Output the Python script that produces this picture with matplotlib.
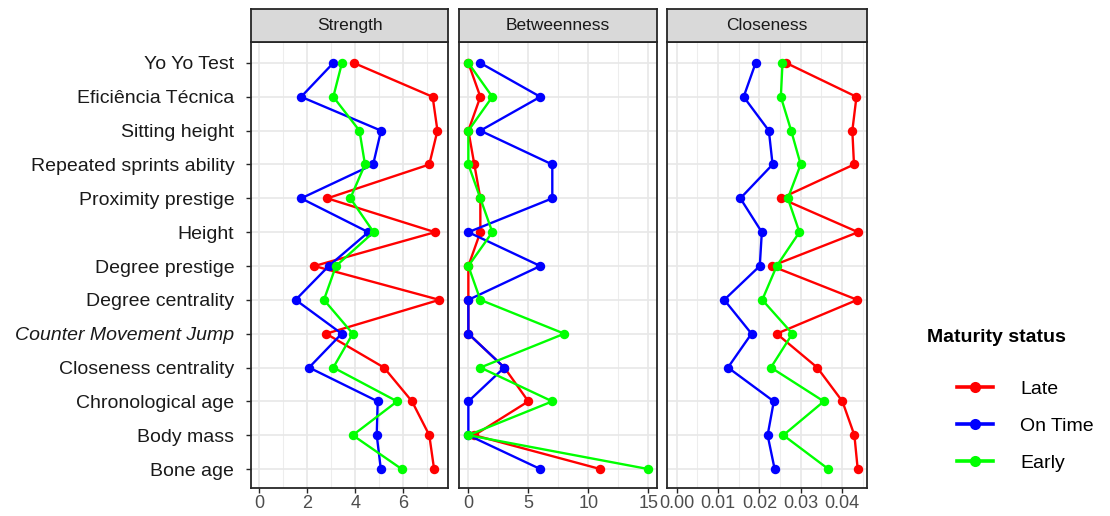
import matplotlib
matplotlib.use("Agg")
import matplotlib.pyplot as plt
from matplotlib.lines import Line2D
from matplotlib.ticker import FixedLocator

plt.rcParams['font.family'] = ['Liberation Sans', 'DejaVu Sans']

variables = ["Yo Yo Test", "Eficiência Técnica", "Sitting height", "Repeated sprints ability",
             "Proximity prestige", "Height", "Degree prestige", "Degree centrality",
             "Counter Movement Jump", "Closeness centrality", "Chronological age",
             "Body mass", "Bone age"]
groups = ["Late", "On Time", "Early"]
group_colors = ["#FF0000", "#0000FF", "#00FF00"]

strength_late = [3.94, 7.22, 7.42, 7.08, 2.83, 7.32, 2.29, 7.50, 2.78, 5.19, 6.36, 7.08, 7.28]
strength_ontime = [3.08, 1.74, 5.07, 4.74, 1.74, 4.54, 2.89, 1.51, 3.43, 2.07, 4.93, 4.89, 5.06]
strength_early = [3.44, 3.08, 4.17, 4.40, 3.79, 4.76, 3.19, 2.69, 3.89, 3.08, 5.74, 3.89, 5.93]

betweenness_late = [0, 1, 0, 0.5, 1, 1, 0, 0, 0, 3, 5, 0.5, 11]
betweenness_ontime = [1, 6, 1, 7, 7, 0, 6, 0, 0, 3, 0, 0, 6]
betweenness_early = [0, 2, 0, 0, 1, 2, 0, 1, 8, 1, 7, 0, 15]

closeness_late = [0.0265, 0.0435, 0.0425, 0.0429, 0.0252, 0.0439, 0.0230, 0.0437, 0.0242,
                  0.0340, 0.0401, 0.0430, 0.0438]
closeness_ontime = [0.0191, 0.0162, 0.0223, 0.0232, 0.0154, 0.0206, 0.0201, 0.0115, 0.0181,
                    0.0124, 0.0235, 0.0220, 0.0237]
closeness_early = [0.0256, 0.0252, 0.0277, 0.0300, 0.0269, 0.0297, 0.0242, 0.0207, 0.0280,
                   0.0228, 0.0356, 0.0258, 0.0367]

panel_titles = ["Strength", "Betweenness", "Closeness"]
panel_data = [
    [strength_late, strength_ontime, strength_early],
    [betweenness_late, betweenness_ontime, betweenness_early],
    [closeness_late, closeness_ontime, closeness_early],
]
major_ticks = [[0, 2, 4, 6], [0, 5, 10, 15], [0.00, 0.01, 0.02, 0.03, 0.04]]
minor_ticks = [[1, 3, 5, 7], [2.5, 7.5, 12.5], [0.005, 0.015, 0.025, 0.035, 0.045]]
tick_labels = [["0", "2", "4", "6"], ["0", "5", "10", "15"],
               ["0.00", "0.01", "0.02", "0.03", "0.04"]]
xlims = [(-0.35, 7.86), (-0.78, 15.73), (-0.00235, 0.04605)]

W, H = 1110, 516
fig = plt.figure(figsize=(W / 100, H / 100), dpi=100)

panel_px = [(251, 448), (459, 657), (667, 867)]
top_px, bot_px, strip_top_px = 42, 488, 9

ypos = list(range(len(variables)))
border = "#262626"

for i, (x0, x1) in enumerate(panel_px):
    ax = fig.add_axes([x0 / W, 1 - bot_px / H, (x1 - x0) / W, (bot_px - top_px) / H])
    ax.set_facecolor("white")
    ax.set_xlim(*xlims[i])
    ax.set_ylim(len(variables) - 1 + 0.56, -0.62)
    ax.xaxis.set_major_locator(FixedLocator(major_ticks[i]))
    ax.xaxis.set_minor_locator(FixedLocator(minor_ticks[i]))
    ax.set_xticklabels(tick_labels[i])
    ax.set_yticks(ypos)
    ax.grid(True, which="major", color="#E8E8E8", lw=1.2, zorder=0)
    ax.grid(True, which="minor", axis="x", color="#EDEDED", lw=0.8, zorder=0)
    ax.set_axisbelow(True)
    for s in ax.spines.values():
        s.set_color(border)
        s.set_linewidth(1.3)
    ax.tick_params(axis="x", which="major", length=3.5, width=1.0, color=border,
                   labelsize=13, labelcolor="#4D4D4D", pad=1.5)
    ax.tick_params(axis="x", which="minor", length=0)
    if i == 0:
        ax.set_yticklabels(variables)
        ax.tick_params(axis="y", length=3.5, width=1.0, color=border, labelsize=14,
                       labelcolor="#1A1A1A", pad=8.5)
        for lab in ax.get_yticklabels():
            if lab.get_text() == "Counter Movement Jump":
                lab.set_fontstyle("italic")
    else:
        ax.tick_params(axis="y", length=0, labelleft=False)
    for vals, col in zip(panel_data[i], group_colors):
        ax.plot(vals, ypos, color=col, lw=1.7, marker="o", markersize=6.8,
                markeredgewidth=0, zorder=3)
    # strip
    sax = fig.add_axes([x0 / W, 1 - top_px / H, (x1 - x0) / W, (top_px - strip_top_px) / H])
    sax.set_facecolor("#D9D9D9")
    sax.set_xticks([])
    sax.set_yticks([])
    for s in sax.spines.values():
        s.set_color(border)
        s.set_linewidth(1.3)
    sax.text(0.5, 0.5, panel_titles[i], ha="center", va="center", fontsize=12.5,
             color="#1A1A1A", transform=sax.transAxes)

# legend
fig.text(927 / W, 1 - 338 / H, "Maturity status", fontsize=14, fontweight="bold",
         ha="left", va="center", color="black")
handles = [Line2D([0], [0], color=c, lw=2.6, marker="o", markersize=8, markeredgewidth=0)
           for c in group_colors]
fig.legend(handles, groups, loc="upper left", bbox_to_anchor=(957 / W, 1 - 380 / H),
           frameon=False, fontsize=14, handlelength=1.85, handletextpad=1.4,
           labelspacing=1.0, borderpad=0, borderaxespad=0)

fig.savefig("out.png", dpi=100)
